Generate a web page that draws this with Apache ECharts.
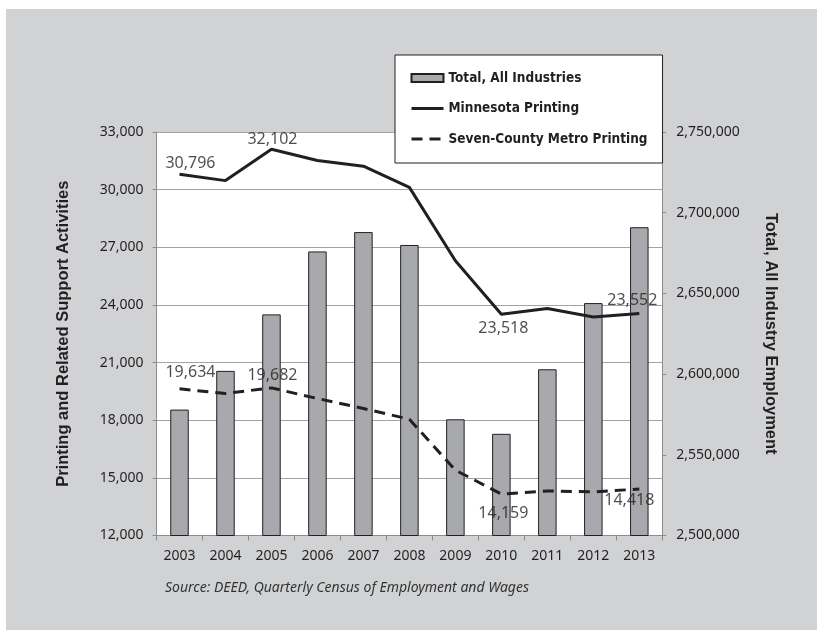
<!DOCTYPE html>
<html>
<head>
<meta charset="utf-8">
<script src="https://cdn.jsdelivr.net/npm/echarts@6/dist/echarts.min.js"></script>
<style>
  html, body { margin: 0; padding: 0; background: #ffffff; overflow: hidden; }
  #chart { width: 817px; height: 630px; }
</style>
</head>
<body>
<div id="chart"></div>
<script>
// Annual employment, 2003-2013
const years = ['2003', '2004', '2005', '2006', '2007', '2008', '2009', '2010', '2011', '2012', '2013'];
const totalEmployment = [2578000, 2602000, 2637000, 2676000, 2688000, 2680000, 2572000, 2563000, 2603000, 2644000, 2691000];
const mnPrinting = [30796, 30470, 32102, 31520, 31220, 30120, 26300, 23518, 23810, 23375, 23552];
const metroPrinting = [19634, 19390, 19682, 19130, 18610, 18050, 15400, 14159, 14320, 14270, 14418];

// Years whose values are printed next to the lines
const labeledYears = ['2003', '2005', '2010', '2013'];

// Axis ticks
const leftTicks = { min: 12000, max: 33000, step: 3000 };
const rightTicks = { min: 2500000, max: 2750000, step: 50000 };

const seriesNames = ['Total, All Industries', 'Minnesota Printing', 'Seven-County Metro Printing'];
const sourceNote = 'Source: DEED, Quarterly Census of Employment and Wages';

const INK = '#231f20';
const PANEL = '#d1d2d4';
const fmt = v => Number(v).toLocaleString('en-US');

// Label placement (pixel offsets from each point)
const mnOffsets = { '2003': [11, -11], '2005': [1, -10], '2010': [2, 14], '2013': [-7, -13] };
const metroOffsets = { '2003': [11, -16], '2005': [1, -12], '2010': [2, 19], '2013': [-10, 11] };

function labelPoints(values, offsets) {
  return labeledYears.map(y => {
    const i = years.indexOf(y);
    return {
      value: [y, values[i]],
      label: { offset: offsets[y] }
    };
  });
}

const labelStyle = {
  show: true,
  position: 'inside',
  formatter: p => fmt(p.value[1]),
  color: INK,
  fontFamily: 'Noto Sans',
  fontSize: 16
};

const tickFont = { fontFamily: 'Noto Sans', fontSize: 14, color: INK };

const chart = echarts.init(document.getElementById('chart'), null, { renderer: 'canvas' });

chart.setOption({
  backgroundColor: PANEL,
  animation: false,
  graphic: [
    // white page margin above and left of the grey panel
    { type: 'rect', z: -10, silent: true, shape: { x: 0, y: 0, width: 817, height: 9 }, style: { fill: '#ffffff' } },
    { type: 'rect', z: -10, silent: true, shape: { x: 0, y: 0, width: 6, height: 630 }, style: { fill: '#ffffff' } },
    {
      type: 'text', left: 165, top: 581, silent: true,
      style: {
        text: sourceNote, fill: '#333333',
        font: 'italic 14px "Noto Sans"'
      }
    }
  ],
  grid: {
    left: 156.5, right: 154.7, top: 132, bottom: 94.5,
    show: true, backgroundColor: '#ffffff', borderWidth: 0
  },
  legend: {
    data: [
      { name: seriesNames[0], icon: 'rect' },
      { name: seriesNames[1], itemStyle: { opacity: 0, borderWidth: 0 }, lineStyle: { width: 3 } },
      { name: seriesNames[2], itemStyle: { opacity: 0, borderWidth: 0 }, lineStyle: { width: 3 } }
    ],
    orient: 'vertical',
    left: 395, top: 55,
    padding: [13, 15, 14, 15],
    itemGap: 10.5,
    itemWidth: 32, itemHeight: 8,
    backgroundColor: '#ffffff',
    borderColor: INK, borderWidth: 1,
    textStyle: {
      fontFamily: "'DejaVu Sans Condensed', 'DejaVu Sans', sans-serif",
      fontWeight: 'bold', fontSize: 13.5, color: INK, lineHeight: 20
    },
    z: 10
  },
  xAxis: {
    type: 'category',
    data: years,
    boundaryGap: true,
    axisLine: { lineStyle: { color: '#8c8c8c', width: 1 } },
    axisTick: { show: true, length: 5, lineStyle: { color: '#8c8c8c' } },
    axisLabel: Object.assign({ margin: 14 }, tickFont)
  },
  yAxis: [
    {
      type: 'value',
      min: leftTicks.min, max: leftTicks.max, interval: leftTicks.step,
      name: 'Printing and Related Support Activities',
      nameLocation: 'middle', nameGap: 85,
      nameTextStyle: { fontFamily: 'Liberation Sans', fontWeight: 'bold', fontSize: 16.5, color: INK },
      axisLine: { show: true, lineStyle: { color: '#8c8c8c' } },
      axisTick: { show: true, length: 4, lineStyle: { color: '#8c8c8c' } },
      splitLine: { show: true, lineStyle: { color: '#a3a3a3', width: 1 } },
      axisLabel: Object.assign({ margin: 13, formatter: fmt }, tickFont)
    },
    {
      type: 'value',
      position: 'right',
      min: rightTicks.min, max: rightTicks.max, interval: rightTicks.step,
      name: 'Total, All Industry Employment',
      nameLocation: 'middle', nameGap: 100, nameRotate: -90,
      nameTextStyle: { fontFamily: 'Liberation Sans', fontWeight: 'bold', fontSize: 16.5, color: INK },
      axisLine: { show: true, lineStyle: { color: '#8c8c8c' } },
      axisTick: { show: true, length: 4, lineStyle: { color: '#8c8c8c' } },
      splitLine: { show: false },
      axisLabel: Object.assign({ margin: 14, formatter: fmt }, tickFont)
    }
  ],
  series: [
    {
      name: seriesNames[0],
      type: 'bar',
      yAxisIndex: 1,
      data: totalEmployment,
      barWidth: 18.5,
      itemStyle: { color: '#a7a9ac', borderColor: INK, borderWidth: 1 },
      z: 2
    },
    {
      name: seriesNames[1],
      type: 'line',
      yAxisIndex: 0,
      data: mnPrinting,
      symbol: 'none',
      lineStyle: { color: INK, width: 3 },
      itemStyle: { color: INK },
      z: 3
    },
    {
      name: seriesNames[2],
      type: 'line',
      yAxisIndex: 0,
      data: metroPrinting,
      symbol: 'none',
      lineStyle: { color: INK, width: 3, type: [11, 7] },
      itemStyle: { color: INK },
      z: 3
    },
    {
      name: 'mn-labels',
      type: 'scatter',
      yAxisIndex: 0,
      data: labelPoints(mnPrinting, mnOffsets),
      symbolSize: 1,
      itemStyle: { color: 'rgba(0,0,0,0)' },
      label: labelStyle,
      silent: true,
      z: 4
    },
    {
      name: 'metro-labels',
      type: 'scatter',
      yAxisIndex: 0,
      data: labelPoints(metroPrinting, metroOffsets),
      symbolSize: 1,
      itemStyle: { color: 'rgba(0,0,0,0)' },
      label: labelStyle,
      silent: true,
      z: 4
    }
  ]
});
</script>
</body>
</html>
